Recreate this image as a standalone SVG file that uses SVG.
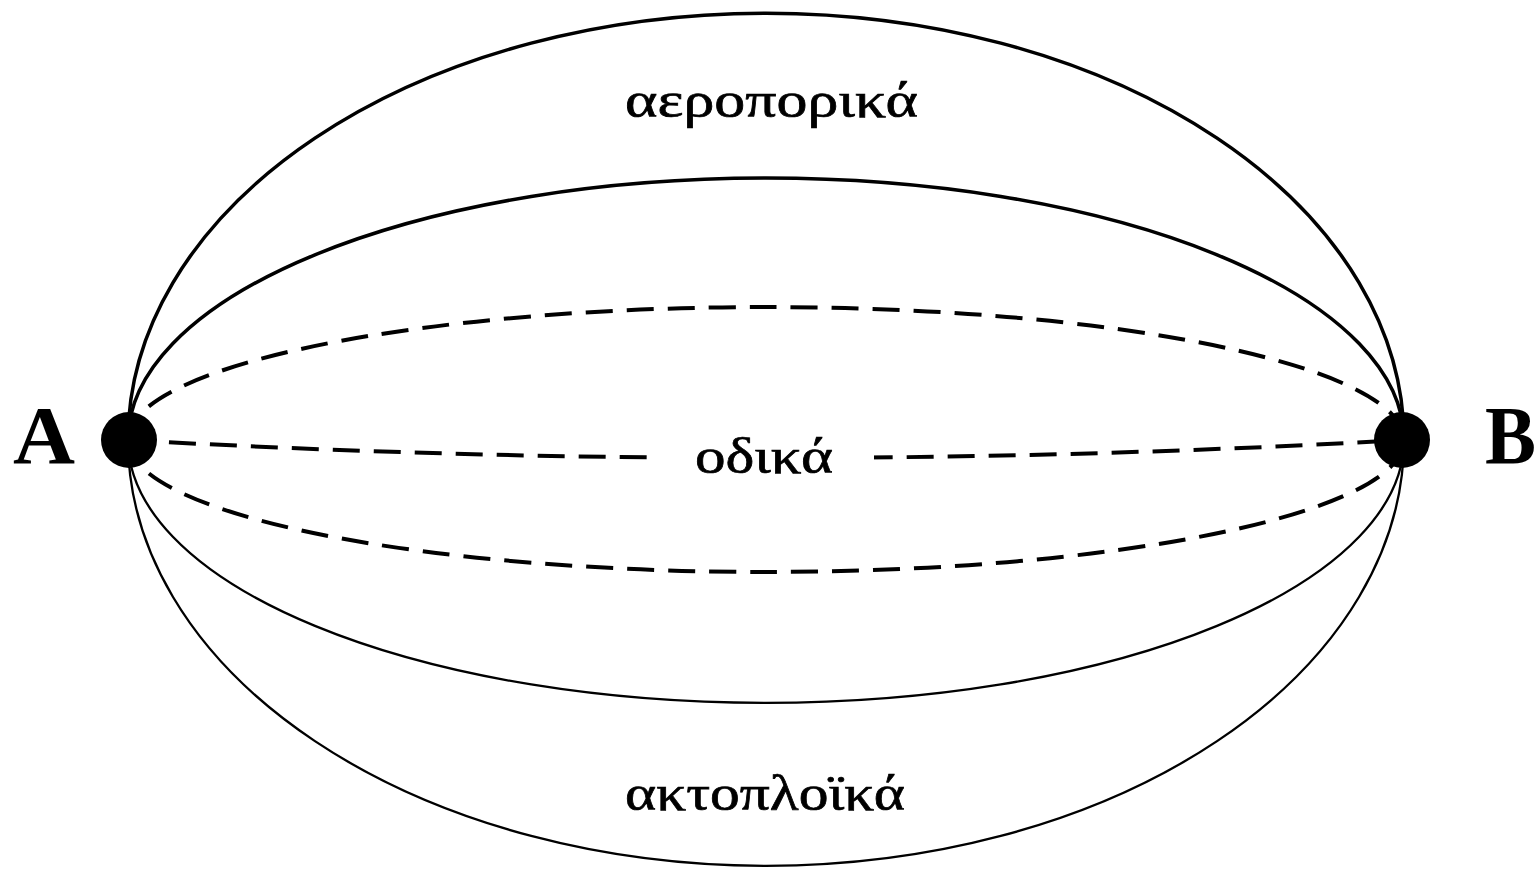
<svg xmlns="http://www.w3.org/2000/svg" width="1538" height="871" viewBox="0 0 1538 871">
  <style>
    .solid-top { fill: none; stroke: #000; stroke-width: 3.5; }
    .solid-bot { fill: none; stroke: #000; stroke-width: 2.3; }
    .dashed { fill: none; stroke: #000; stroke-width: 4; stroke-dasharray: 27 14; }
    .lbl { font-family: "Liberation Serif", "DejaVu Serif", serif; font-size: 50px; fill: #000; stroke: #000; stroke-width: 0.7; }
    .node-lbl { font-family: "Liberation Serif", "DejaVu Serif", serif; font-size: 82px; font-weight: bold; fill: #000; }
  </style>
  <defs>
    <mask id="midmask">
      <rect x="0" y="0" width="1538" height="871" fill="#fff"/>
      <rect x="648" y="420" width="226" height="70" fill="#000"/>
    </mask>
  </defs>
  <rect width="1538" height="871" fill="#fff"/>
  <g id="connectors">
    <path class="solid-top" d="M128,440 A638,427 0 0 1 1404,440"/>
    <path class="solid-top" d="M128,440 A638,262 0 0 1 1404,440"/>
    <path class="dashed" d="M128,440 A638,133 0 0 1 1404,440"/>
    <path class="dashed" d="M128,440 Q766,476 1404,440" mask="url(#midmask)"/>
    <path class="dashed" d="M128,440 A638,132 0 0 0 1404,440"/>
    <path class="solid-bot" d="M128,440 A638,263 0 0 0 1404,440"/>
    <path class="solid-bot" d="M128,440 A638,426 0 0 0 1404,440"/>
  </g>
  <g id="labels">
    <text class="lbl" x="625" y="117" textLength="293" lengthAdjust="spacingAndGlyphs">αεροπορικά</text>
    <text class="lbl" x="695" y="473" textLength="138" lengthAdjust="spacingAndGlyphs">οδικά</text>
    <text class="lbl" x="625" y="810" textLength="280" lengthAdjust="spacingAndGlyphs">ακτοπλοϊκά</text>
  </g>
  <g id="node-A">
    <circle cx="129" cy="440" r="28" fill="#000"/>
    <text class="node-lbl" x="13" y="463" textLength="62" lengthAdjust="spacingAndGlyphs">A</text>
  </g>
  <g id="node-B">
    <circle cx="1402" cy="440" r="28" fill="#000"/>
    <text class="node-lbl" x="1485" y="463" textLength="51" lengthAdjust="spacingAndGlyphs">B</text>
  </g>
</svg>
